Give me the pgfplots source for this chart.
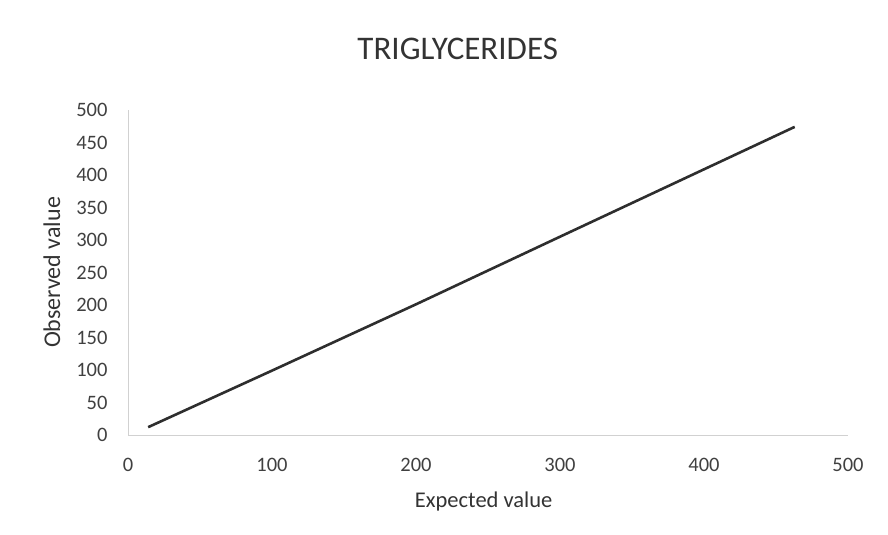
\documentclass[border=0pt]{standalone}
\usepackage{pgfplots}
\pgfplotsset{compat=1.18}
\usepackage{fontspec}
\setmainfont{Carlito}
\begin{document}
\begin{tikzpicture}[x=1pt,y=1pt]
\begin{axis}[
  scale only axis,
  width=720pt, height=325pt,
  at={(128pt,100pt)},
  xmin=0, xmax=500, ymin=0, ymax=500,
  xtick={0,100,...,500}, ytick={0,50,...,500},
  axis x line*=bottom, axis y line*=left,
  axis line style={draw=black!18, line width=0.8pt},
  major tick length=0pt,
  tick label style={font=\fontsize{20.5}{25}\selectfont, text=black!75},
  /pgf/number format/assume math mode=true,
  xticklabel style={anchor=north, yshift=-20pt},
  yticklabel style={anchor=east, xshift=-17pt},
  xlabel={Expected value}, ylabel={Observed value},
  xlabel style={font=\fontsize{22.5}{26}\selectfont, text=black!80, at={(axis description cs:0.494,-0.206)}, anchor=center},
  ylabel style={font=\fontsize{24}{28}\selectfont, text=black!80, at={(axis description cs:-0.1056,0.5)}, anchor=center},
  title={TRIGLYCERIDES},
  title style={font=\fontsize{33}{38}\selectfont, text=black!80, at={(axis description cs:0.458,1.17)}, anchor=center},
  clip=false,
]
\addplot[black!82, line width=2.6pt] coordinates {(14,12) (100,99) (200,201) (300,305) (463,474)};
\path[use as bounding box] (axis cs:-88.9,-153.8) rectangle (axis cs:527.8,669.2);
\end{axis}
\end{tikzpicture}
\end{document}
